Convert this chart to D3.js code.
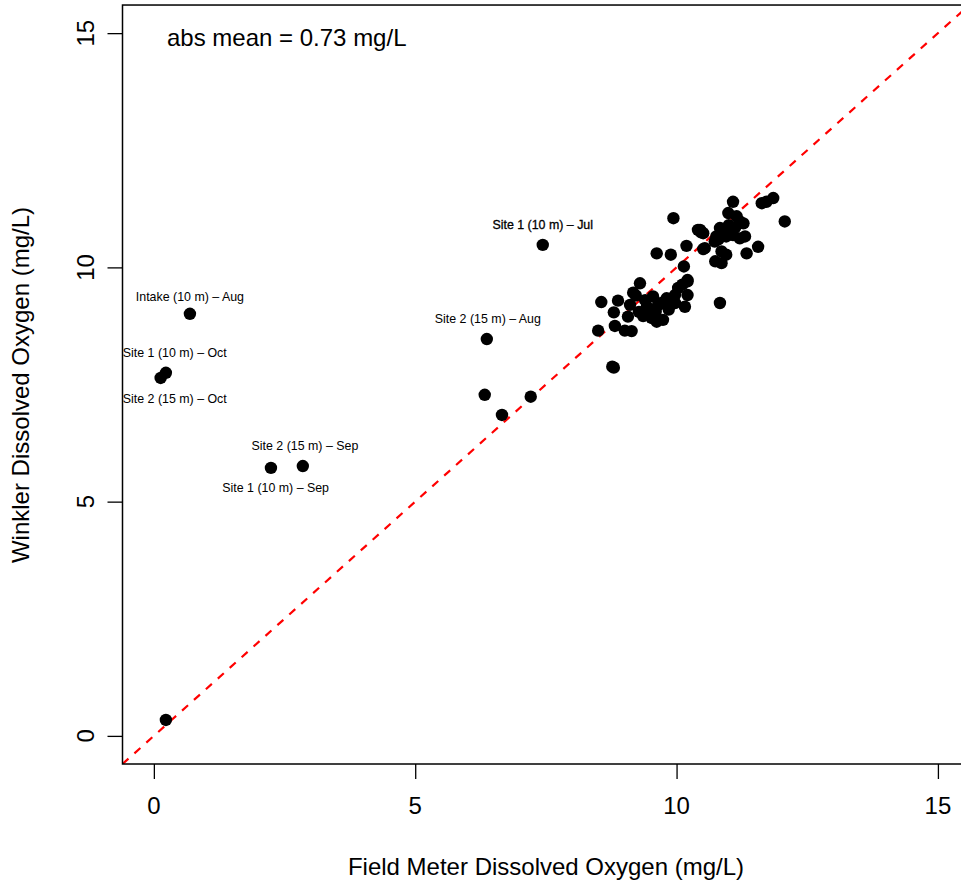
<!DOCTYPE html>
<html>
<head>
<meta charset="utf-8">
<script src="https://cdn.jsdelivr.net/npm/d3@7"></script>
<style>
  body { margin: 0; background: #fff; }
  svg { display: block; font-family: "Liberation Sans", Arial, sans-serif; }
</style>
</head>
<body>
<script>
// ---- data ----
const fieldDO = [
  0.23, 0.69, 0.13, 0.23, 2.24, 2.85, 7.44, 6.37, 6.33, 7.21, 6.66,
  8.56, 8.88, 9.30, 9.17, 9.22, 9.11, 8.80, 9.07, 8.50, 8.82, 9.01, 9.14, 8.77, 8.80,
  9.36, 9.43, 9.55, 9.52, 9.62, 9.74, 9.71, 9.81, 9.97, 9.97, 10.16, 10.03, 10.11, 10.21,
  10.21, 9.50, 9.60, 9.45, 9.65, 9.85, 9.40, 10.14, 10.21, 10.83, 9.28, 9.58,
  9.94, 9.62, 9.89, 10.19, 10.41, 10.47, 10.51,
  11.08, 10.99, 11.15, 11.21, 11.28, 10.45, 10.51, 10.83, 10.89, 10.95, 10.76, 10.73,
  11.08, 11.21, 11.31, 11.03, 11.72, 11.85, 11.63, 12.07, 11.56, 11.34, 10.54, 10.86,
  10.95, 10.74, 10.86, 10.93, 11.00, 10.80, 11.12
];
const winklerDO = [
  0.34, 9.01, 7.64, 7.75, 5.72, 5.76, 10.48, 8.47, 7.28, 7.24, 6.85,
  9.26, 9.29, 9.66, 9.46, 9.40, 9.20, 9.04, 8.95, 8.65, 8.75, 8.65, 8.64, 7.88, 7.86,
  8.96, 9.16, 9.38, 8.92, 8.84, 8.88, 9.24, 9.34, 9.41, 9.24, 9.16, 9.56, 9.63, 9.70,
  9.41, 9.10, 9.05, 9.00, 9.20, 9.10, 9.30, 10.02, 9.73, 9.24, 9.05, 8.95,
  11.05, 10.30, 10.27, 10.46, 10.80, 10.75, 10.39,
  11.40, 11.16, 11.09, 10.98, 10.94, 10.80, 10.73, 10.84, 10.73, 10.66, 10.66, 10.55,
  10.69, 10.62, 10.66, 10.80, 11.40, 11.48, 11.37, 10.98, 10.44, 10.30, 10.41, 10.34,
  10.27, 10.13, 10.09, 10.78, 10.90, 10.60, 10.85
];
const labelText = [
  "Intake (10 m) \u2013 Aug", "Site 1 (10 m) \u2013 Oct", "Site 2 (15 m) \u2013 Oct",
  "Site 2 (15 m) \u2013 Sep", "Site 1 (10 m) \u2013 Sep", "Site 2 (15 m) \u2013 Aug",
  "Site 1 (10 m) \u2013 Jul"
];
const labelX = [0.69, 0.40, 0.40, 2.89, 2.33, 6.39, 7.44];
const labelY = [9.37, 8.18, 7.19, 6.19, 5.29, 8.90, 10.91];
const xTicks = [0, 5, 10, 15];
const yTicks = [0, 5, 10, 15];
const statText = "abs mean = 0.73 mg/L";
const xTitle = "Field Meter Dissolved Oxygen (mg/L)";
const yTitle = "Winkler Dissolved Oxygen (mg/L)";

// ---- layout ----
const W = 961, H = 886;
const plot = { left: 122.5, top: 5.5, bottom: 764 };
const FS = 24;
const xs = d3.scaleLinear().domain([-0.6, 15.6]).range([122.5, 122.5 + 16.2 * 52.27]);
const ys = d3.scaleLinear().domain([-0.6, 15.6]).range([764, 764 - 16.2 * 46.85]);

const svg = d3.select("body").append("svg").attr("width", W).attr("height", H);

svg.append("clipPath").attr("id", "clip").append("rect")
  .attr("x", xs(-0.6)).attr("y", ys(15.6))
  .attr("width", xs(15.6) - xs(-0.6)).attr("height", ys(-0.6) - ys(15.6));

// 1:1 line
svg.append("line")
  .attr("clip-path", "url(#clip)")
  .attr("x1", xs(-0.6)).attr("y1", ys(-0.6))
  .attr("x2", xs(15.6)).attr("y2", ys(15.6))
  .attr("stroke", "#ff0000").attr("stroke-width", 2.2)
  .attr("stroke-dasharray", "8,8");

// points
const pts = fieldDO.map((x, i) => [x, winklerDO[i]]);
svg.append("g").selectAll("circle").data(pts).join("circle")
  .attr("cx", d => xs(d[0])).attr("cy", d => ys(d[1]))
  .attr("r", 6.2).attr("fill", "#000");

// point labels
svg.append("g").selectAll("text").data(labelText).join("text")
  .attr("x", (d, i) => xs(labelX[i])).attr("y", (d, i) => ys(labelY[i]))
  .attr("text-anchor", "middle").attr("dominant-baseline", "central")
  .attr("font-size", 12.4).attr("fill", "#000")
  .attr("stroke", (d, i) => i === 6 ? "#000" : "none").attr("stroke-width", 0.3)
  .text(d => d);

// box
svg.append("rect")
  .attr("x", xs(-0.6)).attr("y", ys(15.6))
  .attr("width", xs(15.6) - xs(-0.6)).attr("height", ys(-0.6) - ys(15.6))
  .attr("fill", "none").attr("stroke", "#000").attr("stroke-width", 1.5);

// x axis
const xAxis = d3.axisBottom(xs).tickValues(xTicks).tickSize(15).tickFormat(d3.format("d"));
const gx = svg.append("g").attr("transform", `translate(0,${plot.bottom})`).call(xAxis);
gx.select(".domain").remove();
gx.selectAll("line").attr("stroke-width", 1.3);
gx.selectAll("text").remove();
svg.append("g").selectAll("text").data(xTicks).join("text")
  .attr("x", d => xs(d)).attr("y", 805)
  .attr("text-anchor", "middle").attr("dominant-baseline", "central")
  .attr("font-size", FS).attr("fill", "#000")
  .text(d => d);

// y axis
const yAxis = d3.axisLeft(ys).tickValues(yTicks).tickSize(15).tickFormat(d3.format("d"));
const gy = svg.append("g").attr("transform", `translate(${plot.left},0)`).call(yAxis);
gy.select(".domain").remove();
gy.selectAll("line").attr("stroke-width", 1.3);
gy.selectAll("text").remove();
svg.append("g").selectAll("text").data(yTicks).join("text")
  .attr("transform", d => `translate(85,${ys(d)}) rotate(-90)`)
  .attr("text-anchor", "middle").attr("dominant-baseline", "central")
  .attr("font-size", FS).attr("fill", "#000")
  .text(d => d);

// titles
svg.append("text").attr("x", 546).attr("y", 866).attr("text-anchor", "middle")
  .attr("dominant-baseline", "central")
  .attr("font-size", FS).attr("fill", "#000").text(xTitle);
svg.append("text").attr("transform", `translate(20,385) rotate(-90)`).attr("text-anchor", "middle")
  .attr("dominant-baseline", "central")
  .attr("font-size", FS).attr("fill", "#000").text(yTitle);

// stat annotation
svg.append("text").attr("x", 167).attr("y", 37).attr("dominant-baseline", "central")
  .attr("font-size", FS).attr("fill", "#000").text(statText);
</script>
</body>
</html>
